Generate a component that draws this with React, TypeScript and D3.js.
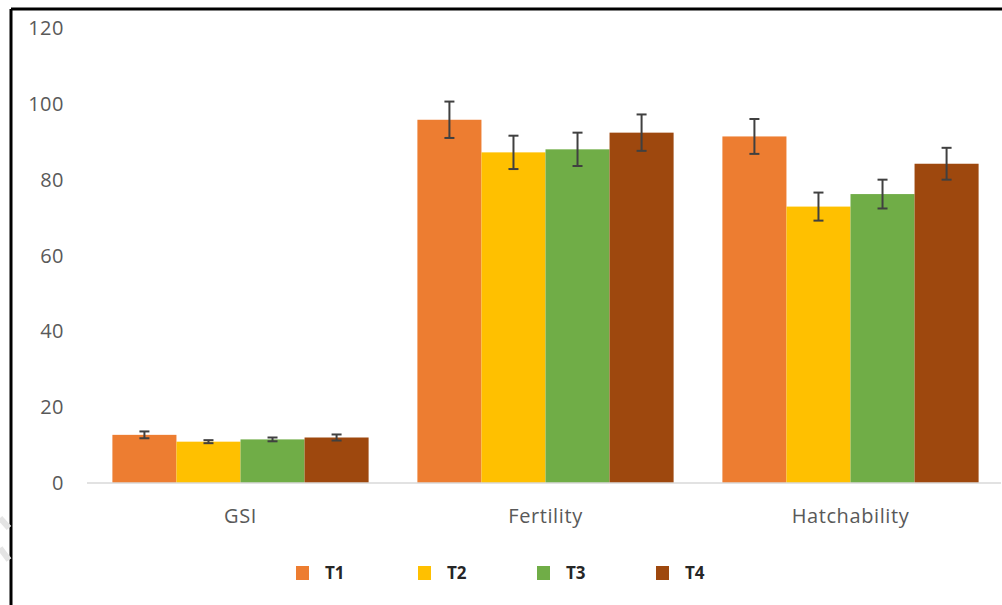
import React from "react";
import * as d3 from "d3";

const categories = ["GSI", "Fertility", "Hatchability"];
const seriesNames = ["T1", "T2", "T3", "T4"];
const seriesColors = ["#ED7D31", "#FFC000", "#70AD47", "#9E480E"];
const t1Values = [12.7, 95.8, 91.4];
const t2Values = [10.9, 87.2, 72.9];
const t3Values = [11.5, 88.0, 76.2];
const t4Values = [12.0, 92.4, 84.2];
const t1Errors = [0.9, 4.8, 4.6];
const t2Errors = [0.4, 4.4, 3.7];
const t3Errors = [0.5, 4.4, 3.8];
const t4Errors = [0.8, 4.8, 4.2];
const yTicks = [0, 20, 40, 60, 80, 100, 120];

const values = [t1Values, t2Values, t3Values, t4Values];
const errors = [t1Errors, t2Errors, t3Errors, t4Errors];

const W = 1002;
const H = 605;

export default function App() {
  const x0 = d3.scaleBand().domain(categories).range([88, 1003]).paddingInner(0.16).paddingOuter(0.08);
  const x1 = d3.scaleBand().domain(seriesNames).range([0, x0.bandwidth()]).padding(0);
  const y = d3.scaleLinear().domain([0, 120]).range([483, 28]);
  const font = "'Open Sans', 'Liberation Sans', sans-serif";
  const legendX = [296, 418, 537, 656];

  return (
    <svg width={W} height={H} style={{ position: "absolute", left: 0, top: 0, background: "#fff" }} fontFamily={font}>
      <rect x={0} y={0} width={W} height={H} fill="#fff" />
      {/* frame */}
      <line x1={11} y1={9} x2={W} y2={9} stroke="#000" strokeWidth={3} />
      <line x1={11} y1={9} x2={11} y2={H} stroke="#000" strokeWidth={3} />
      {/* faint watermark strokes */}
      <path d="M0,518 L9,528" stroke="#e4e4e4" strokeWidth={6} />
      <path d="M0,548 L9,560" stroke="#e4e4e4" strokeWidth={6} />

      {yTicks.map((t) => (
        <text key={t} x={64} y={y(t)} dy="0.35em" textAnchor="end" fontSize={20} fill="#595959" letterSpacing={0.5}>
          {t}
        </text>
      ))}

      {categories.map((c, ci) => (
        <g key={c} transform={`translate(${x0(c)},0)`}>
          {seriesNames.map((s, si) => {
            const v = values[si][ci];
            const e = errors[si][ci];
            const bx = x1(s)!;
            const bw = x1.bandwidth();
            const cx = bx + bw / 2;
            return (
              <g key={s}>
                <rect x={bx} y={y(v)} width={bw} height={y(0) - y(v)} fill={seriesColors[si]} />
                <line x1={cx} x2={cx} y1={y(v + e)} y2={y(v - e)} stroke="#404040" strokeWidth={2} />
                <line x1={cx - 5} x2={cx + 5} y1={y(v + e)} y2={y(v + e)} stroke="#404040" strokeWidth={2} />
                <line x1={cx - 5} x2={cx + 5} y1={y(v - e)} y2={y(v - e)} stroke="#404040" strokeWidth={2} />
              </g>
            );
          })}
        </g>
      ))}

      <line x1={87} x2={1001} y1={y(0)} y2={y(0)} stroke="#D9D9D9" strokeWidth={1.5} />

      {categories.map((c) => (
        <text key={c} x={x0(c)! + x0.bandwidth() / 2} y={516} dy="0.35em" textAnchor="middle" fontSize={20} fill="#595959" letterSpacing={0.6}>
          {c}
        </text>
      ))}

      {seriesNames.map((s, si) => (
        <g key={s}>
          <rect x={legendX[si]} y={566} width={13} height={14} fill={seriesColors[si]} />
          <text x={legendX[si] + 29} y={573} dy="0.35em" fontSize={17} fontWeight="bold" fill="#262626">
            {s}
          </text>
        </g>
      ))}
    </svg>
  );
}
